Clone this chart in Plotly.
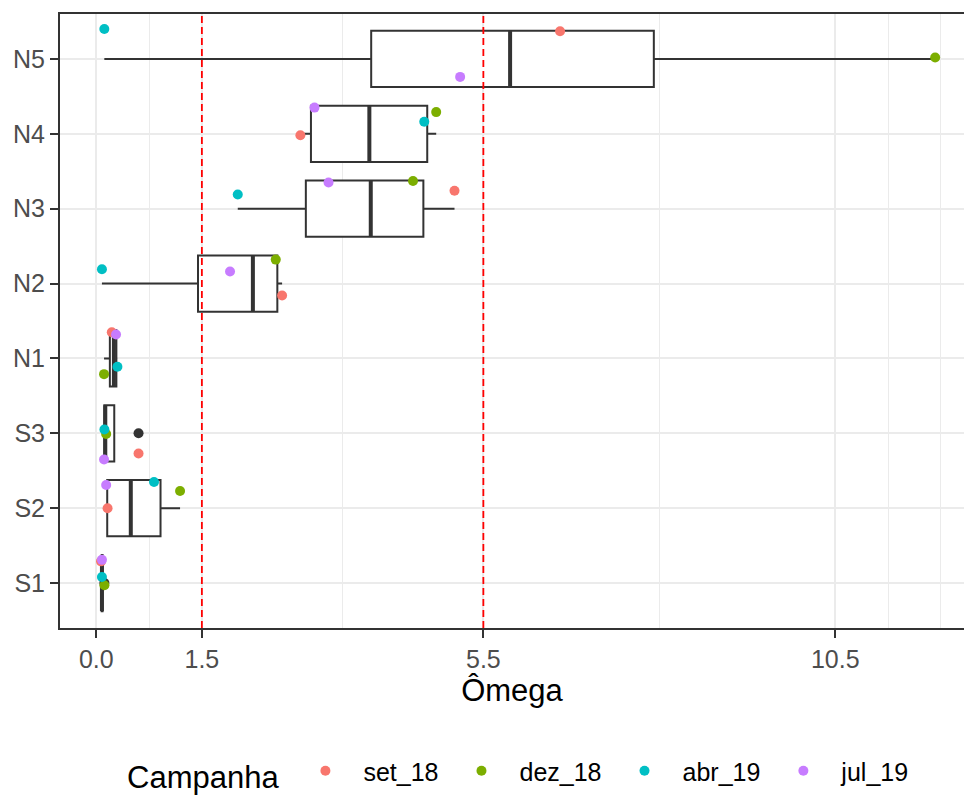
import numpy as np
import plotly.graph_objects as go

# Stations (bottom to top) and the Omega index per sampling campaign
categories = ["S1", "S2", "S3", "N1", "N2", "N3", "N4", "N5"]
campaigns = ["set_18", "dez_18", "abr_19", "jul_19"]

set_18 = [0.067, 0.16, 0.60, 0.22, 2.64, 5.09, 2.90, 6.59]
dez_18 = [0.115, 1.19, 0.14, 0.11, 2.55, 4.50, 4.83, 11.92]
abr_19 = [0.08, 0.82, 0.115, 0.30, 0.08, 2.01, 4.66, 0.114]
jul_19 = [0.08, 0.14, 0.11, 0.28, 1.90, 3.30, 3.10, 5.17]

# vertical jitter of each point (category units)
jitter_set_18 = [0.29, 0.00, -0.27, 0.35, -0.16, 0.24, -0.02, 0.37]
jitter_dez_18 = [-0.03, 0.23, -0.01, -0.21, 0.32, 0.37, 0.29, 0.02]
jitter_abr_19 = [0.08, 0.35, 0.05, -0.11, 0.19, 0.19, 0.16, 0.40]
jitter_jul_19 = [0.31, 0.31, -0.35, 0.32, 0.16, 0.35, 0.35, -0.24]

x_breaks = [0.0, 1.5, 5.5, 10.5]
x_labels = ["0.0", "1.5", "5.5", "10.5"]
x_minor = [0.75, 3.5, 8.0, 11.25, 12.0]
thresholds = [1.5, 5.5]

values = {"set_18": set_18, "dez_18": dez_18, "abr_19": abr_19, "jul_19": jul_19}
jitters = {"set_18": jitter_set_18, "dez_18": jitter_dez_18,
           "abr_19": jitter_abr_19, "jul_19": jitter_jul_19}
colors = {"set_18": "#F8766D", "dez_18": "#7CAE00", "abr_19": "#00BFC4", "jul_19": "#C77CFF"}

FONT = "Liberation Sans, Arial, sans-serif"
DARK = "#333333"
GRID = "#EBEBEB"
BOX_W = 0.75

pos = np.arange(1, len(categories) + 1)
data = np.array([values[c] for c in campaigns]).T  # rows: categories

# Tukey box statistics (type-7 quantiles)
q1 = np.quantile(data, 0.25, axis=1)
med = np.quantile(data, 0.5, axis=1)
q3 = np.quantile(data, 0.75, axis=1)
iqr = q3 - q1
lo_f, hi_f, out_x, out_y = [], [], [], []
for i, row in enumerate(data):
    inside = row[(row >= q1[i] - 1.5 * iqr[i]) & (row <= q3[i] + 1.5 * iqr[i])]
    lo_f.append(inside.min())
    hi_f.append(inside.max())
    for v in row:
        if v < q1[i] - 1.5 * iqr[i] or v > q3[i] + 1.5 * iqr[i]:
            out_x.append(v)
            out_y.append(pos[i])

fig = go.Figure()

fig.add_trace(go.Box(
    y=pos, q1=q1, median=med, q3=q3, lowerfence=lo_f, upperfence=hi_f,
    orientation="h", width=BOX_W, whiskerwidth=0,
    fillcolor="white", line=dict(color=DARK, width=2),
    boxpoints=False, showlegend=False, hoverinfo="skip",
))

# thicker median bars
mx, my = [], []
for p, m in zip(pos, med):
    mx += [m, m, None]
    my += [p - BOX_W / 2, p + BOX_W / 2, None]
fig.add_trace(go.Scatter(x=mx, y=my, mode="lines", line=dict(color=DARK, width=4),
                         showlegend=False, hoverinfo="skip"))

# outliers
fig.add_trace(go.Scatter(x=out_x, y=out_y, mode="markers",
                         marker=dict(color=DARK, size=10), showlegend=False, hoverinfo="skip"))

for c in campaigns:
    fig.add_trace(go.Scatter(
        x=values[c], y=pos + np.array(jitters[c]), mode="markers", name=c,
        marker=dict(color=colors[c], size=10), hoverinfo="skip",
    ))

for t in thresholds:
    fig.add_shape(type="line", x0=t, x1=t, xref="x", y0=0, y1=1, yref="paper",
                  line=dict(color="#FF0000", width=1.8, dash="7px,4px"), layer="above")

fig.update_layout(
    width=964, height=800,
    margin=dict(l=60, r=0, t=14, b=172),
    paper_bgcolor="white", plot_bgcolor="white",
    font=dict(family=FONT, color="black"),
    showlegend=True,
    legend=dict(
        orientation="h", xref="container", yref="container",
        x=125 / 964, xanchor="left", y=1 - 748 / 800, yanchor="top",
        title=dict(text="Campanha", font=dict(size=31, color="black")),
        font=dict(size=25, color="black"),
        itemwidth=66, bgcolor="rgba(0,0,0,0)",
    ),
)

fig.update_xaxes(
    range=[-0.516, 12.33],
    tickmode="array", tickvals=x_breaks, ticktext=x_labels,
    tickfont=dict(size=25, color="#4D4D4D"),
    ticks="outside", ticklen=8, tickwidth=1.6, tickcolor=DARK,
    showgrid=True, gridcolor=GRID, gridwidth=2,
    minor=dict(tickvals=x_minor, showgrid=True, gridcolor=GRID, gridwidth=1.2, ticks=""),
    showline=True, linecolor=DARK, linewidth=2, mirror=True,
    zeroline=False,
    title=dict(text="Ômega", font=dict(size=31, color="black"), standoff=7),
)

fig.update_yaxes(
    range=[0.4, 8.6],
    tickmode="array", tickvals=pos, ticktext=categories,
    tickfont=dict(size=25, color="#4D4D4D"),
    ticks="outside", ticklen=8, tickwidth=1.6, tickcolor=DARK,
    showgrid=True, gridcolor=GRID, gridwidth=2,
    showline=True, linecolor=DARK, linewidth=2, mirror=False,
    zeroline=False,
)

fig.write_html("out.html")
